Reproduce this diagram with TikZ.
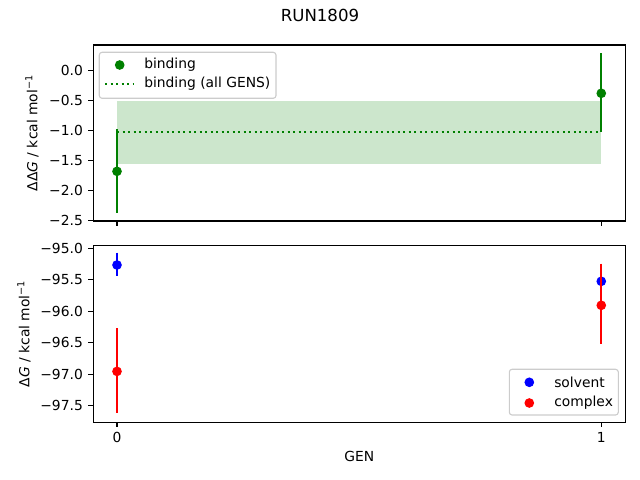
\documentclass[tikz,border=0pt]{standalone}
\usepackage{fontspec}
\setmainfont{DejaVu Sans}
\definecolor{mplgreen}{HTML}{008000}
\definecolor{bandgreen}{HTML}{CCE6CC}
\tikzset{
  spine/.style={line width=0.8pt},
  tickmark/.style={line width=0.8pt},
  ticklbl/.style={font=\fontsize{10}{12}\selectfont, inner sep=0pt},
  errbar/.style={line width=1.5pt},
  dot/.style={circle, inner sep=0pt, minimum size=7pt},
  legendbox/.style={draw=black!20, fill=white, fill opacity=0.8, rounded corners=2pt, line width=0.8pt}
}

\begin{document}
\begin{tikzpicture}[x=0.01in, y=-0.01in]
    \useasboundingbox (0,0) rectangle (640,480);
    \node[font=\fontsize{12}{14}\selectfont] (title) at (320,15.7) {RUN1809};

    % top panel: binding
    \begin{scope}[shift={(117,70.3)}, x=4.84in, y=0.6in]
      \fill[bandgreen] (0,-0.512) rectangle (1,-1.556);
      \draw[mplgreen, line width=1.5pt, dash pattern=on 1.5pt off 2.475pt] (0,-1.023) -- (1,-1.023);
      \draw[errbar, mplgreen] (0,-0.983) -- (0,-2.373);
      \draw[errbar, mplgreen] (1,0.283) -- (1,-1.023);
      \node[dot, fill=mplgreen] (b0) at (0,-1.683) {};
      \node[dot, fill=mplgreen] (b1) at (1,-0.383) {};
      \foreach \v/\l in {0/0.0,-0.5/−0.5,-1/−1.0,-1.5/−1.5,-2/−2.0,-2.5/−2.5} {
        \draw[tickmark] (-0.05,\v) -- ++(-3.5pt,0);
        \node[ticklbl, anchor=east] at ([xshift=-7pt]-0.05,\v) {\l};
      }
      \foreach \g in {0,1}
        \draw[tickmark] (\g,-2.5117) -- ++(0,-3.5pt);
    \end{scope}
    \draw[spine] (93.3,45) rectangle (625.5,221);
    \node[rotate=90, font=\fontsize{10}{12}\selectfont] (ylbltop) at (32,133)
      {ΔΔ\textit{G} / kcal mol\textsuperscript{−1}};
    \draw[legendbox] (99.3,52.3) rectangle (276,98.3);
    \node[dot, fill=mplgreen] (legb) at (119.7,65) {};
    \draw[mplgreen, line width=1.5pt, dash pattern=on 1.5pt off 2.475pt] (105,83.7) -- (133,83.7);
    \node[ticklbl, anchor=west] (legbtxt) at (144,65) {binding};
    \node[ticklbl, anchor=west] (legalltxt) at (144,83.7) {binding (all GENS)};

    % bottom panel: solvent and complex (y measured from -95)
    \begin{scope}[shift={(117,248.3)}, x=4.84in, y=0.6296in]
      \draw[errbar, blue] (0,-0.07) -- (0,-0.435);
      \node[dot, fill=blue] (s0) at (0,-0.265) {};
      \node[dot, fill=blue] (s1) at (1,-0.524) {};
      \draw[errbar, red] (0,-1.27) -- (0,-2.62);
      \draw[errbar, red] (1,-0.245) -- (1,-1.525);
      \node[dot, fill=red] (c0) at (0,-1.954) {};
      \node[dot, fill=red] (c1) at (1,-0.905) {};
      \foreach \v/\l in {0/−95.0,-0.5/−95.5,-1/−96.0,-1.5/−96.5,-2/−97.0,-2.5/−97.5} {
        \draw[tickmark] (-0.05,\v) -- ++(-3.5pt,0);
        \node[ticklbl, anchor=east] at ([xshift=-7pt]-0.05,\v) {\l};
      }
      \foreach \g in {0,1} {
        \draw[tickmark] (\g,-2.763) -- ++(0,-3.5pt);
        \node[ticklbl, anchor=north] at ([yshift=-7pt]\g,-2.763) {\g};
      }
    \end{scope}
    \draw[spine] (93.3,245.3) rectangle (625.5,422.3);
    \node[rotate=90, font=\fontsize{10}{12}\selectfont] (ylblbot) at (24,333.7)
      {Δ\textit{G} / kcal mol\textsuperscript{−1}};
    \node[font=\fontsize{10}{12}\selectfont] (xlbl) at (359.4,456.7) {GEN};
    \draw[legendbox] (509.3,369.3) rectangle (618.3,415);
    \node[dot, fill=blue] (legs) at (529.3,382.3) {};
    \node[dot, fill=red] (legc) at (529.3,403) {};
    \node[ticklbl, anchor=west] (legstxt) at (554,382.3) {solvent};
    \node[ticklbl, anchor=west] (legctxt) at (554,403) {complex};
  \end{tikzpicture}
\end{document}
